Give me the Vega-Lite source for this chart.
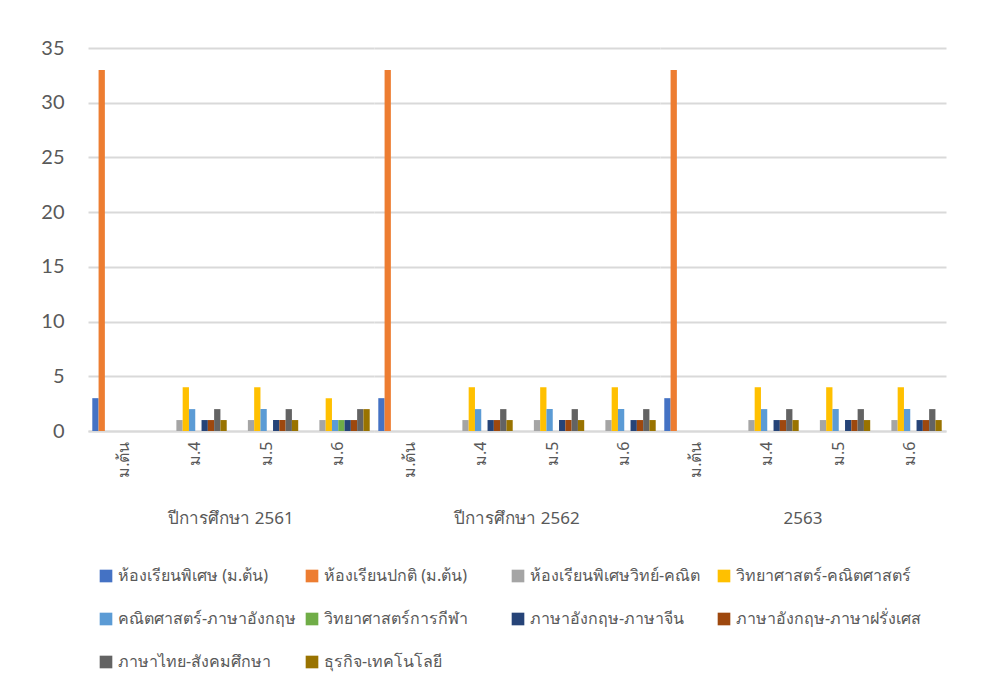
{
  "$schema": "https://vega.github.io/schema/vega-lite/v6.json",
  "background": "white",
  "padding": {"left": 40, "top": 38, "right": 40, "bottom": 10},
  "config": {
    "view": {"stroke": null},
    "font": "Noto Sans",
    "axis": {"labelColor": "#595959", "titleColor": "#595959"},
    "header": {"labelColor": "#595959"}
  },
  "data": {"values": [
    {"year":"ปีการศึกษา 2561","level":"ม.ต้น","series":"ห้องเรียนพิเศษ (ม.ต้น)","value":3},
    {"year":"ปีการศึกษา 2561","level":"ม.ต้น","series":"ห้องเรียนปกติ (ม.ต้น)","value":33},
    {"year":"ปีการศึกษา 2561","level":"ม.ต้น","series":"ห้องเรียนพิเศษวิทย์-คณิต","value":0},
    {"year":"ปีการศึกษา 2561","level":"ม.ต้น","series":"วิทยาศาสตร์-คณิตศาสตร์","value":0},
    {"year":"ปีการศึกษา 2561","level":"ม.ต้น","series":"คณิตศาสตร์-ภาษาอังกฤษ","value":0},
    {"year":"ปีการศึกษา 2561","level":"ม.ต้น","series":"วิทยาศาสตร์การกีฬา","value":0},
    {"year":"ปีการศึกษา 2561","level":"ม.ต้น","series":"ภาษาอังกฤษ-ภาษาจีน","value":0},
    {"year":"ปีการศึกษา 2561","level":"ม.ต้น","series":"ภาษาอังกฤษ-ภาษาฝรั่งเศส","value":0},
    {"year":"ปีการศึกษา 2561","level":"ม.ต้น","series":"ภาษาไทย-สังคมศึกษา","value":0},
    {"year":"ปีการศึกษา 2561","level":"ม.ต้น","series":"ธุรกิจ-เทคโนโลยี","value":0},
    {"year":"ปีการศึกษา 2561","level":"ม.4","series":"ห้องเรียนพิเศษ (ม.ต้น)","value":0},
    {"year":"ปีการศึกษา 2561","level":"ม.4","series":"ห้องเรียนปกติ (ม.ต้น)","value":0},
    {"year":"ปีการศึกษา 2561","level":"ม.4","series":"ห้องเรียนพิเศษวิทย์-คณิต","value":1},
    {"year":"ปีการศึกษา 2561","level":"ม.4","series":"วิทยาศาสตร์-คณิตศาสตร์","value":4},
    {"year":"ปีการศึกษา 2561","level":"ม.4","series":"คณิตศาสตร์-ภาษาอังกฤษ","value":2},
    {"year":"ปีการศึกษา 2561","level":"ม.4","series":"วิทยาศาสตร์การกีฬา","value":0},
    {"year":"ปีการศึกษา 2561","level":"ม.4","series":"ภาษาอังกฤษ-ภาษาจีน","value":1},
    {"year":"ปีการศึกษา 2561","level":"ม.4","series":"ภาษาอังกฤษ-ภาษาฝรั่งเศส","value":1},
    {"year":"ปีการศึกษา 2561","level":"ม.4","series":"ภาษาไทย-สังคมศึกษา","value":2},
    {"year":"ปีการศึกษา 2561","level":"ม.4","series":"ธุรกิจ-เทคโนโลยี","value":1},
    {"year":"ปีการศึกษา 2561","level":"ม.5","series":"ห้องเรียนพิเศษ (ม.ต้น)","value":0},
    {"year":"ปีการศึกษา 2561","level":"ม.5","series":"ห้องเรียนปกติ (ม.ต้น)","value":0},
    {"year":"ปีการศึกษา 2561","level":"ม.5","series":"ห้องเรียนพิเศษวิทย์-คณิต","value":1},
    {"year":"ปีการศึกษา 2561","level":"ม.5","series":"วิทยาศาสตร์-คณิตศาสตร์","value":4},
    {"year":"ปีการศึกษา 2561","level":"ม.5","series":"คณิตศาสตร์-ภาษาอังกฤษ","value":2},
    {"year":"ปีการศึกษา 2561","level":"ม.5","series":"วิทยาศาสตร์การกีฬา","value":0},
    {"year":"ปีการศึกษา 2561","level":"ม.5","series":"ภาษาอังกฤษ-ภาษาจีน","value":1},
    {"year":"ปีการศึกษา 2561","level":"ม.5","series":"ภาษาอังกฤษ-ภาษาฝรั่งเศส","value":1},
    {"year":"ปีการศึกษา 2561","level":"ม.5","series":"ภาษาไทย-สังคมศึกษา","value":2},
    {"year":"ปีการศึกษา 2561","level":"ม.5","series":"ธุรกิจ-เทคโนโลยี","value":1},
    {"year":"ปีการศึกษา 2561","level":"ม.6","series":"ห้องเรียนพิเศษ (ม.ต้น)","value":0},
    {"year":"ปีการศึกษา 2561","level":"ม.6","series":"ห้องเรียนปกติ (ม.ต้น)","value":0},
    {"year":"ปีการศึกษา 2561","level":"ม.6","series":"ห้องเรียนพิเศษวิทย์-คณิต","value":1},
    {"year":"ปีการศึกษา 2561","level":"ม.6","series":"วิทยาศาสตร์-คณิตศาสตร์","value":3},
    {"year":"ปีการศึกษา 2561","level":"ม.6","series":"คณิตศาสตร์-ภาษาอังกฤษ","value":1},
    {"year":"ปีการศึกษา 2561","level":"ม.6","series":"วิทยาศาสตร์การกีฬา","value":1},
    {"year":"ปีการศึกษา 2561","level":"ม.6","series":"ภาษาอังกฤษ-ภาษาจีน","value":1},
    {"year":"ปีการศึกษา 2561","level":"ม.6","series":"ภาษาอังกฤษ-ภาษาฝรั่งเศส","value":1},
    {"year":"ปีการศึกษา 2561","level":"ม.6","series":"ภาษาไทย-สังคมศึกษา","value":2},
    {"year":"ปีการศึกษา 2561","level":"ม.6","series":"ธุรกิจ-เทคโนโลยี","value":2},
    {"year":"ปีการศึกษา 2562","level":"ม.ต้น","series":"ห้องเรียนพิเศษ (ม.ต้น)","value":3},
    {"year":"ปีการศึกษา 2562","level":"ม.ต้น","series":"ห้องเรียนปกติ (ม.ต้น)","value":33},
    {"year":"ปีการศึกษา 2562","level":"ม.ต้น","series":"ห้องเรียนพิเศษวิทย์-คณิต","value":0},
    {"year":"ปีการศึกษา 2562","level":"ม.ต้น","series":"วิทยาศาสตร์-คณิตศาสตร์","value":0},
    {"year":"ปีการศึกษา 2562","level":"ม.ต้น","series":"คณิตศาสตร์-ภาษาอังกฤษ","value":0},
    {"year":"ปีการศึกษา 2562","level":"ม.ต้น","series":"วิทยาศาสตร์การกีฬา","value":0},
    {"year":"ปีการศึกษา 2562","level":"ม.ต้น","series":"ภาษาอังกฤษ-ภาษาจีน","value":0},
    {"year":"ปีการศึกษา 2562","level":"ม.ต้น","series":"ภาษาอังกฤษ-ภาษาฝรั่งเศส","value":0},
    {"year":"ปีการศึกษา 2562","level":"ม.ต้น","series":"ภาษาไทย-สังคมศึกษา","value":0},
    {"year":"ปีการศึกษา 2562","level":"ม.ต้น","series":"ธุรกิจ-เทคโนโลยี","value":0},
    {"year":"ปีการศึกษา 2562","level":"ม.4","series":"ห้องเรียนพิเศษ (ม.ต้น)","value":0},
    {"year":"ปีการศึกษา 2562","level":"ม.4","series":"ห้องเรียนปกติ (ม.ต้น)","value":0},
    {"year":"ปีการศึกษา 2562","level":"ม.4","series":"ห้องเรียนพิเศษวิทย์-คณิต","value":1},
    {"year":"ปีการศึกษา 2562","level":"ม.4","series":"วิทยาศาสตร์-คณิตศาสตร์","value":4},
    {"year":"ปีการศึกษา 2562","level":"ม.4","series":"คณิตศาสตร์-ภาษาอังกฤษ","value":2},
    {"year":"ปีการศึกษา 2562","level":"ม.4","series":"วิทยาศาสตร์การกีฬา","value":0},
    {"year":"ปีการศึกษา 2562","level":"ม.4","series":"ภาษาอังกฤษ-ภาษาจีน","value":1},
    {"year":"ปีการศึกษา 2562","level":"ม.4","series":"ภาษาอังกฤษ-ภาษาฝรั่งเศส","value":1},
    {"year":"ปีการศึกษา 2562","level":"ม.4","series":"ภาษาไทย-สังคมศึกษา","value":2},
    {"year":"ปีการศึกษา 2562","level":"ม.4","series":"ธุรกิจ-เทคโนโลยี","value":1},
    {"year":"ปีการศึกษา 2562","level":"ม.5","series":"ห้องเรียนพิเศษ (ม.ต้น)","value":0},
    {"year":"ปีการศึกษา 2562","level":"ม.5","series":"ห้องเรียนปกติ (ม.ต้น)","value":0},
    {"year":"ปีการศึกษา 2562","level":"ม.5","series":"ห้องเรียนพิเศษวิทย์-คณิต","value":1},
    {"year":"ปีการศึกษา 2562","level":"ม.5","series":"วิทยาศาสตร์-คณิตศาสตร์","value":4},
    {"year":"ปีการศึกษา 2562","level":"ม.5","series":"คณิตศาสตร์-ภาษาอังกฤษ","value":2},
    {"year":"ปีการศึกษา 2562","level":"ม.5","series":"วิทยาศาสตร์การกีฬา","value":0},
    {"year":"ปีการศึกษา 2562","level":"ม.5","series":"ภาษาอังกฤษ-ภาษาจีน","value":1},
    {"year":"ปีการศึกษา 2562","level":"ม.5","series":"ภาษาอังกฤษ-ภาษาฝรั่งเศส","value":1},
    {"year":"ปีการศึกษา 2562","level":"ม.5","series":"ภาษาไทย-สังคมศึกษา","value":2},
    {"year":"ปีการศึกษา 2562","level":"ม.5","series":"ธุรกิจ-เทคโนโลยี","value":1},
    {"year":"ปีการศึกษา 2562","level":"ม.6","series":"ห้องเรียนพิเศษ (ม.ต้น)","value":0},
    {"year":"ปีการศึกษา 2562","level":"ม.6","series":"ห้องเรียนปกติ (ม.ต้น)","value":0},
    {"year":"ปีการศึกษา 2562","level":"ม.6","series":"ห้องเรียนพิเศษวิทย์-คณิต","value":1},
    {"year":"ปีการศึกษา 2562","level":"ม.6","series":"วิทยาศาสตร์-คณิตศาสตร์","value":4},
    {"year":"ปีการศึกษา 2562","level":"ม.6","series":"คณิตศาสตร์-ภาษาอังกฤษ","value":2},
    {"year":"ปีการศึกษา 2562","level":"ม.6","series":"วิทยาศาสตร์การกีฬา","value":0},
    {"year":"ปีการศึกษา 2562","level":"ม.6","series":"ภาษาอังกฤษ-ภาษาจีน","value":1},
    {"year":"ปีการศึกษา 2562","level":"ม.6","series":"ภาษาอังกฤษ-ภาษาฝรั่งเศส","value":1},
    {"year":"ปีการศึกษา 2562","level":"ม.6","series":"ภาษาไทย-สังคมศึกษา","value":2},
    {"year":"ปีการศึกษา 2562","level":"ม.6","series":"ธุรกิจ-เทคโนโลยี","value":1},
    {"year":"2563","level":"ม.ต้น","series":"ห้องเรียนพิเศษ (ม.ต้น)","value":3},
    {"year":"2563","level":"ม.ต้น","series":"ห้องเรียนปกติ (ม.ต้น)","value":33},
    {"year":"2563","level":"ม.ต้น","series":"ห้องเรียนพิเศษวิทย์-คณิต","value":0},
    {"year":"2563","level":"ม.ต้น","series":"วิทยาศาสตร์-คณิตศาสตร์","value":0},
    {"year":"2563","level":"ม.ต้น","series":"คณิตศาสตร์-ภาษาอังกฤษ","value":0},
    {"year":"2563","level":"ม.ต้น","series":"วิทยาศาสตร์การกีฬา","value":0},
    {"year":"2563","level":"ม.ต้น","series":"ภาษาอังกฤษ-ภาษาจีน","value":0},
    {"year":"2563","level":"ม.ต้น","series":"ภาษาอังกฤษ-ภาษาฝรั่งเศส","value":0},
    {"year":"2563","level":"ม.ต้น","series":"ภาษาไทย-สังคมศึกษา","value":0},
    {"year":"2563","level":"ม.ต้น","series":"ธุรกิจ-เทคโนโลยี","value":0},
    {"year":"2563","level":"ม.4","series":"ห้องเรียนพิเศษ (ม.ต้น)","value":0},
    {"year":"2563","level":"ม.4","series":"ห้องเรียนปกติ (ม.ต้น)","value":0},
    {"year":"2563","level":"ม.4","series":"ห้องเรียนพิเศษวิทย์-คณิต","value":1},
    {"year":"2563","level":"ม.4","series":"วิทยาศาสตร์-คณิตศาสตร์","value":4},
    {"year":"2563","level":"ม.4","series":"คณิตศาสตร์-ภาษาอังกฤษ","value":2},
    {"year":"2563","level":"ม.4","series":"วิทยาศาสตร์การกีฬา","value":0},
    {"year":"2563","level":"ม.4","series":"ภาษาอังกฤษ-ภาษาจีน","value":1},
    {"year":"2563","level":"ม.4","series":"ภาษาอังกฤษ-ภาษาฝรั่งเศส","value":1},
    {"year":"2563","level":"ม.4","series":"ภาษาไทย-สังคมศึกษา","value":2},
    {"year":"2563","level":"ม.4","series":"ธุรกิจ-เทคโนโลยี","value":1},
    {"year":"2563","level":"ม.5","series":"ห้องเรียนพิเศษ (ม.ต้น)","value":0},
    {"year":"2563","level":"ม.5","series":"ห้องเรียนปกติ (ม.ต้น)","value":0},
    {"year":"2563","level":"ม.5","series":"ห้องเรียนพิเศษวิทย์-คณิต","value":1},
    {"year":"2563","level":"ม.5","series":"วิทยาศาสตร์-คณิตศาสตร์","value":4},
    {"year":"2563","level":"ม.5","series":"คณิตศาสตร์-ภาษาอังกฤษ","value":2},
    {"year":"2563","level":"ม.5","series":"วิทยาศาสตร์การกีฬา","value":0},
    {"year":"2563","level":"ม.5","series":"ภาษาอังกฤษ-ภาษาจีน","value":1},
    {"year":"2563","level":"ม.5","series":"ภาษาอังกฤษ-ภาษาฝรั่งเศส","value":1},
    {"year":"2563","level":"ม.5","series":"ภาษาไทย-สังคมศึกษา","value":2},
    {"year":"2563","level":"ม.5","series":"ธุรกิจ-เทคโนโลยี","value":1},
    {"year":"2563","level":"ม.6","series":"ห้องเรียนพิเศษ (ม.ต้น)","value":0},
    {"year":"2563","level":"ม.6","series":"ห้องเรียนปกติ (ม.ต้น)","value":0},
    {"year":"2563","level":"ม.6","series":"ห้องเรียนพิเศษวิทย์-คณิต","value":1},
    {"year":"2563","level":"ม.6","series":"วิทยาศาสตร์-คณิตศาสตร์","value":4},
    {"year":"2563","level":"ม.6","series":"คณิตศาสตร์-ภาษาอังกฤษ","value":2},
    {"year":"2563","level":"ม.6","series":"วิทยาศาสตร์การกีฬา","value":0},
    {"year":"2563","level":"ม.6","series":"ภาษาอังกฤษ-ภาษาจีน","value":1},
    {"year":"2563","level":"ม.6","series":"ภาษาอังกฤษ-ภาษาฝรั่งเศส","value":1},
    {"year":"2563","level":"ม.6","series":"ภาษาไทย-สังคมศึกษา","value":2},
    {"year":"2563","level":"ม.6","series":"ธุรกิจ-เทคโนโลยี","value":1}
  ]},
  "facet": {
    "column": {
      "field": "year",
      "type": "nominal",
      "sort": ["ปีการศึกษา 2561", "ปีการศึกษา 2562", "2563"],
      "title": null,
      "header": {"labelOrient": "bottom", "labelFontSize": 17, "labelPadding": 34, "labelColor": "#595959"}
    }
  },
  "spacing": 0,
  "spec": {
    "width": 286,
    "height": 383,
    "mark": {"type": "bar"},
    "encoding": {
      "x": {
        "field": "level",
        "type": "nominal",
        "sort": ["ม.ต้น", "ม.4", "ม.5", "ม.6"],
        "title": null,
        "scale": {"paddingInner": 0.12, "paddingOuter": 0.06},
        "axis": {"labelAngle": -90, "labelFontSize": 16, "labelPadding": 10, "ticks": false, "domainColor": "#d9d9d9", "domainWidth": 2, "labelColor": "#595959"}
      },
      "xOffset": {
        "field": "series",
        "type": "nominal",
        "sort": ["ห้องเรียนพิเศษ (ม.ต้น)","ห้องเรียนปกติ (ม.ต้น)","ห้องเรียนพิเศษวิทย์-คณิต","วิทยาศาสตร์-คณิตศาสตร์","คณิตศาสตร์-ภาษาอังกฤษ","วิทยาศาสตร์การกีฬา","ภาษาอังกฤษ-ภาษาจีน","ภาษาอังกฤษ-ภาษาฝรั่งเศส","ภาษาไทย-สังคมศึกษา","ธุรกิจ-เทคโนโลยี"],
        "scale": {"paddingInner": 0, "paddingOuter": 0}
      },
      "y": {
        "field": "value",
        "type": "quantitative",
        "title": null,
        "scale": {"domain": [0, 35]},
        "axis": {"values": [0,5,10,15,20,25,30,35], "labelFontSize": 20, "labelFont": "Lato", "labelPadding": 24, "ticks": false, "domain": false, "gridColor": "#d9d9d9", "gridWidth": 2, "labelColor": "#595959"}
      },
      "color": {
        "field": "series",
        "type": "nominal",
        "sort": ["ห้องเรียนพิเศษ (ม.ต้น)","ห้องเรียนปกติ (ม.ต้น)","ห้องเรียนพิเศษวิทย์-คณิต","วิทยาศาสตร์-คณิตศาสตร์","คณิตศาสตร์-ภาษาอังกฤษ","วิทยาศาสตร์การกีฬา","ภาษาอังกฤษ-ภาษาจีน","ภาษาอังกฤษ-ภาษาฝรั่งเศส","ภาษาไทย-สังคมศึกษา","ธุรกิจ-เทคโนโลยี"],
        "scale": {
          "domain": ["ห้องเรียนพิเศษ (ม.ต้น)","ห้องเรียนปกติ (ม.ต้น)","ห้องเรียนพิเศษวิทย์-คณิต","วิทยาศาสตร์-คณิตศาสตร์","คณิตศาสตร์-ภาษาอังกฤษ","วิทยาศาสตร์การกีฬา","ภาษาอังกฤษ-ภาษาจีน","ภาษาอังกฤษ-ภาษาฝรั่งเศส","ภาษาไทย-สังคมศึกษา","ธุรกิจ-เทคโนโลยี"],
          "range": ["#4472C4","#ED7D31","#A5A5A5","#FFC000","#5B9BD5","#70AD47","#264478","#9E480E","#636363","#997300"]
        },
        "legend": {
          "title": null,
          "orient": "bottom",
          "direction": "horizontal",
          "columns": 4,
          "gridAlign": "all",
          "symbolType": "square",
          "symbolSize": 160,
          "symbolStrokeWidth": 0,
          "labelFontSize": 16,
          "labelColor": "#595959",
          "labelLimit": 300,
          "columnPadding": 0,
          "rowPadding": 27,
          "padding": 10,
          "offset": 30
        }
      }
    }
  }
}
